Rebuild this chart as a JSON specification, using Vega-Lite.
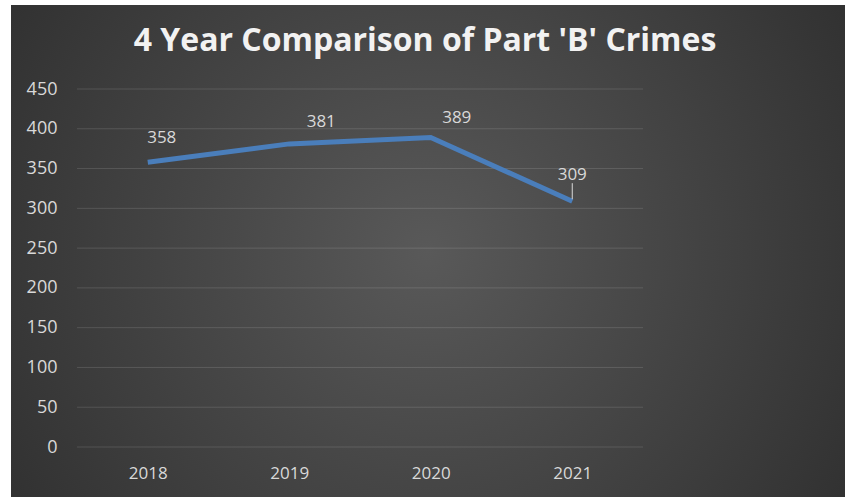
{
  "$schema": "https://vega.github.io/schema/vega-lite/v6.json",
  "width": 834,
  "height": 492,
  "autosize": {"type": "none"},
  "padding": {"left": 11, "top": 5, "right": 0, "bottom": 0},
  "background": "#ffffff",
  "title": {
    "text": "4 Year Comparison of Part 'B' Crimes",
    "anchor": "middle",
    "frame": "group",
    "offset": -47,
    "dy": 31,
    "baseline": "alphabetic",
    "font": "Open Sans",
    "fontSize": 32,
    "fontWeight": "bold",
    "color": "#f2f2f2",
    "dx": -3
  },
  "datasets": {
    "crimes": [
      {"year": 2018, "crimes": 358},
      {"year": 2019, "crimes": 381},
      {"year": 2020, "crimes": 389},
      {"year": 2021, "crimes": 309}
    ],
    "grid": [
      {"crimes": 0}, {"crimes": 50}, {"crimes": 100}, {"crimes": 150}, {"crimes": 200},
      {"crimes": 250}, {"crimes": 300}, {"crimes": 350}, {"crimes": 400}, {"crimes": 450}
    ]
  },
  "layer": [
    {
      "data": {"name": "grid"},
      "mark": {"type": "rule", "color": "#ffffff", "opacity": 0.13, "strokeWidth": 1},
      "encoding": {
        "y": {
          "field": "crimes",
          "type": "quantitative",
          "scale": {"domain": [0, 450], "range": [442, 84], "nice": false, "zero": false},
          "axis": {
            "orient": "left",
            "offset": -66,
            "values": [0, 50, 100, 150, 200, 250, 300, 350, 400, 450],
            "grid": false,
            "ticks": false,
            "domain": false,
            "labelPadding": 20,
            "labelFont": "Open Sans",
            "labelFontSize": 18,
            "labelColor": "#d9d9d9",
            "title": null
          }
        },
        "x": {
          "datum": 2017.5,
          "type": "quantitative",
          "scale": {"domain": [2017.5, 2021.5], "range": [66, 632], "nice": false, "zero": false},
          "axis": {
            "orient": "bottom",
            "offset": -50,
            "values": [2018, 2019, 2020, 2021],
            "format": "d",
            "grid": false,
            "ticks": false,
            "domain": false,
            "labelPadding": 26,
            "labelBaseline": "middle",
            "labelFont": "Open Sans",
            "labelFontSize": 17,
            "labelColor": "#d9d9d9",
            "title": null
          }
        },
        "x2": {"datum": 2021.5}
      }
    },
    {
      "data": {"name": "crimes"},
      "mark": {"type": "line", "color": "#4a7ebb", "strokeWidth": 5},
      "encoding": {
        "x": {"field": "year", "type": "quantitative"},
        "y": {"field": "crimes", "type": "quantitative"}
      }
    },
    {
      "data": {"name": "crimes"},
      "transform": [{"filter": "datum.year == 2021"}],
      "mark": {"type": "rule", "color": "#d9d9d9", "strokeWidth": 1, "yOffset": -18, "y2Offset": -2},
      "encoding": {
        "x": {"field": "year", "type": "quantitative"},
        "y": {"field": "crimes", "type": "quantitative"},
        "y2": {"field": "crimes"}
      }
    },
    {
      "data": {"name": "crimes"},
      "transform": [{"filter": "datum.year == 2018"}],
      "mark": {"type": "text", "font": "Open Sans", "fontSize": 17, "color": "#d9d9d9", "baseline": "middle", "dx": 14, "dy": -24},
      "encoding": {
        "x": {"field": "year", "type": "quantitative"},
        "y": {"field": "crimes", "type": "quantitative"},
        "text": {"field": "crimes", "type": "quantitative"}
      }
    },
    {
      "data": {"name": "crimes"},
      "transform": [{"filter": "datum.year == 2019"}],
      "mark": {"type": "text", "font": "Open Sans", "fontSize": 17, "color": "#d9d9d9", "baseline": "middle", "dx": 32, "dy": -22},
      "encoding": {
        "x": {"field": "year", "type": "quantitative"},
        "y": {"field": "crimes", "type": "quantitative"},
        "text": {"field": "crimes", "type": "quantitative"}
      }
    },
    {
      "data": {"name": "crimes"},
      "transform": [{"filter": "datum.year == 2020"}],
      "mark": {"type": "text", "font": "Open Sans", "fontSize": 17, "color": "#d9d9d9", "baseline": "middle", "dx": 26, "dy": -20},
      "encoding": {
        "x": {"field": "year", "type": "quantitative"},
        "y": {"field": "crimes", "type": "quantitative"},
        "text": {"field": "crimes", "type": "quantitative"}
      }
    },
    {
      "data": {"name": "crimes"},
      "transform": [{"filter": "datum.year == 2021"}],
      "mark": {"type": "text", "font": "Open Sans", "fontSize": 17, "color": "#d9d9d9", "baseline": "middle", "dx": 0, "dy": -26},
      "encoding": {
        "x": {"field": "year", "type": "quantitative"},
        "y": {"field": "crimes", "type": "quantitative"},
        "text": {"field": "crimes", "type": "quantitative"}
      }
    }
  ],
  "config": {
    "view": {
      "stroke": null,
      "fill": {
        "gradient": "radial",
        "x1": 0.5, "y1": 0.5, "r1": 0,
        "x2": 0.5, "y2": 0.5, "r2": 0.75,
        "stops": [
          {"offset": 0, "color": "#595959"},
          {"offset": 1, "color": "#262626"}
        ]
      }
    }
  }
}
